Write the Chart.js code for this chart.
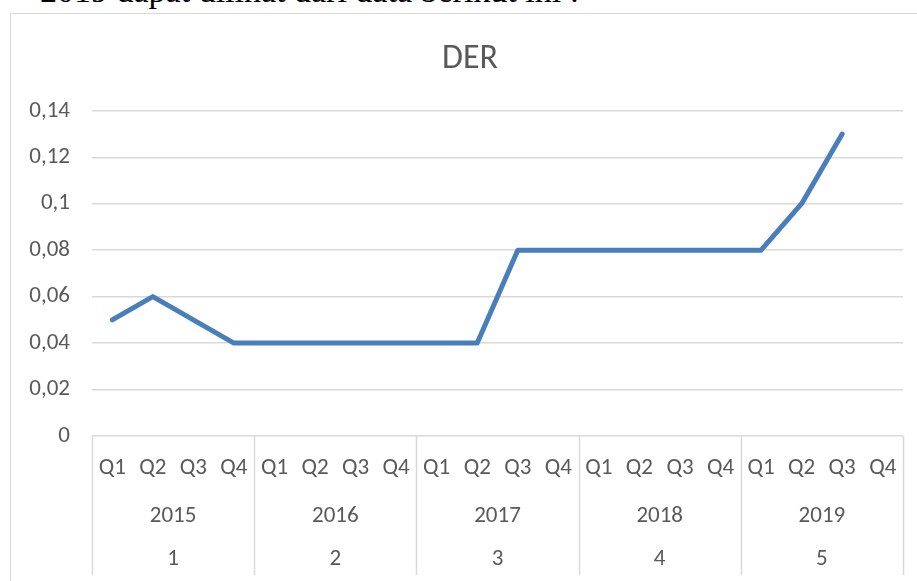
<!DOCTYPE html>
<html>
<head>
<meta charset="utf-8">
<script src="https://cdn.jsdelivr.net/npm/chart.js@4"></script>
<style>
  html, body { margin: 0; padding: 0; width: 917px; height: 581px; overflow: hidden; background: #fff; }
  .caption {
    position: absolute; left: 40px; top: -26px;
    font: 34px/34px "Liberation Serif", "Times New Roman", serif; color: #000; white-space: nowrap;
  }
  .box {
    position: absolute; left: 10px; top: 13px; width: 920px; height: 580px;
    border: 1px solid #d9d9d9; box-sizing: border-box;
  }
  .box canvas { position: absolute; left: 0; top: 0; }
</style>
</head>
<body>
<div class="caption">2019 dapat dilihat dari data berikut ini :</div>
<div class="box"><canvas id="derChart" width="918" height="566"></canvas></div>
<script>
// ── DATA ──
const quarters = ['Q1','Q2','Q3','Q4'];
const years    = ['2015','2016','2017','2018','2019'];
const periods  = ['1','2','3','4','5'];
const derValues = [
    0.05, 0.06, 0.05, 0.04,
    0.04, 0.04, 0.04, 0.04,
    0.04, 0.04, 0.08, 0.08,
    0.08, 0.08, 0.08, 0.08,
    0.08, 0.10, 0.13, null
];
const yTicks = [0, 0.02, 0.04, 0.06, 0.08, 0.1, 0.12, 0.14];

const labels = [];
years.forEach(() => quarters.forEach(q => labels.push(q)));

const textColor = '#595959';
const gridColor = '#d9d9d9';
const fontFamily = 'Carlito, Calibri, Lato, "Open Sans", sans-serif';
const font = { family: fontFamily, size: 23 };

// ── GROUPED X LABELS (years + period index) ──
const groupLabels = {
    id: 'groupLabels',
    afterDraw(chart) {
        const { ctx, scales: { x }, chartArea } = chart;
        const half = (x.getPixelForValue(1) - x.getPixelForValue(0)) / 2;
        const axisY = chartArea.bottom;
        const lineBottom = axisY + 139;
        ctx.save();
        ctx.strokeStyle = gridColor;
        ctx.lineWidth = 1.5;
        for (let g = 0; g <= years.length; g++) {
            const px = Math.round(x.getPixelForValue(g * 4) - half) + 0.5;
            ctx.beginPath();
            ctx.moveTo(px, axisY);
            ctx.lineTo(px, lineBottom);
            ctx.stroke();
        }
        ctx.fillStyle = textColor;
        ctx.font = `${font.size}px ${font.family}`;
        ctx.textAlign = 'center';
        ctx.textBaseline = 'middle';
        years.forEach((y, g) => {
            const cx = (x.getPixelForValue(g * 4) + x.getPixelForValue(g * 4 + 3)) / 2;
            ctx.fillText(y, cx, axisY + 80);
            ctx.fillText(periods[g], cx, axisY + 123);
        });
        ctx.restore();
    }
};

new Chart(document.getElementById('derChart'), {
    type: 'line',
    data: {
        labels: labels,
        datasets: [{
            label: 'DER',
            data: derValues,
            borderColor: '#4a7ebb',
            borderWidth: 5,
            borderCapStyle: 'round',
            borderJoinStyle: 'round',
            pointRadius: 0,
            tension: 0,
            spanGaps: false,
        }]
    },
    options: {
        responsive: false,
        animation: false,
        layout: { padding: 0 },
        plugins: {
            legend: { display: false },
            tooltip: { enabled: false },
            title: {
                display: true,
                text: 'DER',
                color: textColor,
                font: { family: fontFamily, size: 34, weight: 'normal' },
                padding: { top: 25, bottom: 31 }
            }
        },
        scales: {
            x: {
                offset: true,
                grid: { display: false, drawTicks: false },
                border: { display: false },
                ticks: { color: textColor, font: font, padding: 18, maxRotation: 0, autoSkip: false },
                afterFit: s => { s.height = 144; }
            },
            y: {
                min: 0,
                max: 0.14,
                afterBuildTicks: s => { s.ticks = yTicks.map(v => ({ value: v })); },
                grid: { color: gridColor, lineWidth: 1.5, drawTicks: false },
                border: { display: false },
                ticks: {
                    color: textColor, font: font, padding: 22,
                    callback: v => String(Math.round(v * 100) / 100).replace('.', ',')
                },
                afterFit: s => { s.width = 81; }
            },
            // empty right-hand margin, keeps the title centred on the whole frame
            yRight: {
                position: 'right',
                grid: { display: false },
                border: { display: false },
                ticks: { display: false },
                afterFit: s => { s.width = 26; }
            }
        }
    },
    plugins: [groupLabels]
});
</script>
</body>
</html>
